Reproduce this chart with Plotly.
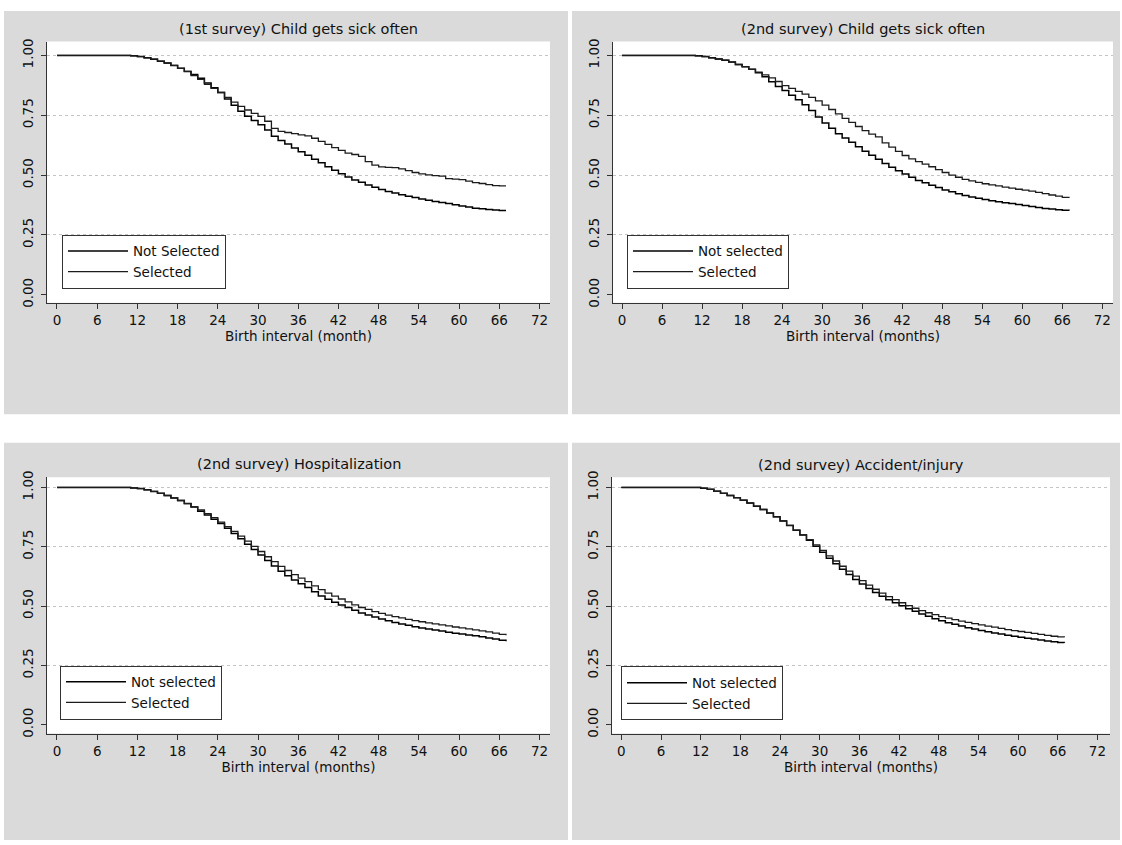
import plotly.graph_objects as go

# ---------------- data ----------------
months = list(range(68))
x_ticks = [0, 6, 12, 18, 24, 30, 36, 42, 48, 54, 60, 66, 72]
y_ticks = [0, 0.25, 0.5, 0.75, 1.0]
y_ticktext = ["0.00", "0.25", "0.50", "0.75", "1.00"]
y_grid = [0.25, 0.5, 0.75, 1.0]

titles = [
    "(1st survey) Child gets sick often",
    "(2nd survey) Child gets sick often",
    "(2nd survey) Hospitalization",
    "(2nd survey) Accident/injury",
]
x_titles = [
    "Birth interval (month)",
    "Birth interval (months)",
    "Birth interval (months)",
    "Birth interval (months)",
]
legend_names = [
    ("Not Selected", "Selected"),
    ("Not selected", "Selected"),
    ("Not selected", "Selected"),
    ("Not selected", "Selected"),
]

# Panel 1: (1st survey) Child gets sick often
p1_not = [1.0]*11 + [0.998, 0.995, 0.99, 0.984, 0.976, 0.968, 0.958, 0.946, 0.933, 0.92,
          0.904, 0.885, 0.865, 0.845, 0.818, 0.792, 0.767, 0.746, 0.728, 0.71,
          0.688, 0.662, 0.645, 0.63, 0.613, 0.598, 0.583, 0.566, 0.552, 0.535,
          0.52, 0.506, 0.492, 0.48, 0.47, 0.459, 0.449, 0.44, 0.432, 0.425,
          0.418, 0.412, 0.406, 0.4, 0.395, 0.39, 0.386, 0.381, 0.376, 0.371,
          0.367, 0.362, 0.359, 0.356, 0.354, 0.352, 0.352]
p1_sel = [1.0]*11 + [0.998, 0.995, 0.99, 0.984, 0.976, 0.968, 0.958, 0.946, 0.933, 0.916,
          0.9, 0.879, 0.862, 0.845, 0.825, 0.805, 0.787, 0.772, 0.758, 0.745,
          0.725, 0.695, 0.683, 0.678, 0.673, 0.668, 0.664, 0.654, 0.641, 0.628,
          0.615, 0.603, 0.592, 0.586, 0.578, 0.556, 0.542, 0.534, 0.532, 0.531,
          0.526, 0.519, 0.511, 0.505, 0.501, 0.498, 0.496, 0.485, 0.483, 0.481,
          0.475, 0.469, 0.465, 0.46, 0.456, 0.455, 0.455]

# Panel 2: (2nd survey) Child gets sick often
p2_not = [1.0]*11 + [0.998, 0.995, 0.99, 0.985, 0.98, 0.972, 0.962, 0.953, 0.942, 0.928,
          0.911, 0.89, 0.87, 0.853, 0.834, 0.815, 0.794, 0.77, 0.743, 0.718,
          0.696, 0.673, 0.655, 0.637, 0.618, 0.6, 0.583, 0.566, 0.548, 0.533,
          0.518, 0.505, 0.491, 0.478, 0.468, 0.458, 0.448, 0.438, 0.43, 0.422,
          0.415, 0.409, 0.403, 0.398, 0.393, 0.389, 0.385, 0.381, 0.377, 0.373,
          0.369, 0.365, 0.361, 0.358, 0.355, 0.353, 0.351]
p2_sel = [1.0]*11 + [0.998, 0.995, 0.99, 0.985, 0.98, 0.972, 0.962, 0.953, 0.942, 0.93,
          0.919, 0.906, 0.891, 0.874, 0.862, 0.85, 0.838, 0.825, 0.81, 0.792,
          0.774, 0.756, 0.737, 0.72, 0.703, 0.686, 0.671, 0.66, 0.635, 0.617,
          0.599, 0.582, 0.568, 0.556, 0.546, 0.535, 0.523, 0.511, 0.5, 0.491,
          0.482, 0.476, 0.47, 0.464, 0.459, 0.455, 0.45, 0.446, 0.441, 0.437,
          0.433, 0.428, 0.423, 0.417, 0.412, 0.407, 0.404]

# Panel 3: (2nd survey) Hospitalization
p3_not = [1.0]*11 + [0.998, 0.995, 0.99, 0.983, 0.975, 0.966, 0.956, 0.945, 0.932, 0.918,
          0.9, 0.884, 0.866, 0.848, 0.828, 0.806, 0.784, 0.761, 0.738, 0.715,
          0.692, 0.669, 0.647, 0.628, 0.61, 0.594, 0.578, 0.56, 0.543, 0.529,
          0.516, 0.505, 0.494, 0.482, 0.471, 0.463, 0.454, 0.446, 0.438, 0.431,
          0.425, 0.419, 0.413, 0.408, 0.403, 0.399, 0.395, 0.39, 0.386, 0.382,
          0.378, 0.375, 0.371, 0.366, 0.361, 0.356, 0.352]
p3_sel = [1.0]*11 + [0.998, 0.995, 0.99, 0.983, 0.975, 0.966, 0.956, 0.945, 0.932, 0.918,
          0.905, 0.89, 0.873, 0.854, 0.835, 0.815, 0.795, 0.774, 0.752, 0.73,
          0.708, 0.687, 0.667, 0.65, 0.633, 0.618, 0.603, 0.585, 0.569, 0.555,
          0.542, 0.53, 0.518, 0.505, 0.494, 0.486, 0.477, 0.469, 0.462, 0.456,
          0.45, 0.444, 0.439, 0.434, 0.429, 0.425, 0.421, 0.417, 0.412, 0.408,
          0.404, 0.4, 0.396, 0.391, 0.386, 0.381, 0.377]

# Panel 4: (2nd survey) Accident/injury
p4_not = [1.0]*12 + [0.997, 0.992, 0.984, 0.975, 0.966, 0.957, 0.946, 0.934, 0.921,
          0.907, 0.892, 0.876, 0.859, 0.84, 0.82, 0.8, 0.777, 0.752, 0.727,
          0.702, 0.678, 0.655, 0.633, 0.612, 0.593, 0.574, 0.557, 0.541, 0.527,
          0.514, 0.501, 0.489, 0.478, 0.467, 0.457, 0.447, 0.438, 0.43, 0.423,
          0.416, 0.409, 0.403, 0.397, 0.392, 0.387, 0.382, 0.377, 0.373, 0.369,
          0.365, 0.361, 0.357, 0.353, 0.35, 0.347, 0.346]
p4_sel = [1.0]*12 + [0.997, 0.992, 0.984, 0.975, 0.966, 0.957, 0.946, 0.934, 0.921,
          0.907, 0.892, 0.876, 0.859, 0.84, 0.82, 0.8, 0.78, 0.758, 0.735,
          0.712, 0.69, 0.668, 0.647, 0.626, 0.607, 0.588, 0.571, 0.555, 0.54,
          0.527, 0.514, 0.502, 0.491, 0.481, 0.472, 0.464, 0.456, 0.449, 0.443,
          0.437, 0.431, 0.426, 0.421, 0.416, 0.411, 0.406, 0.401, 0.397, 0.393,
          0.389, 0.385, 0.381, 0.377, 0.373, 0.37, 0.369]

series_not = [p1_not, p2_not, p3_not, p4_not]
series_sel = [p1_sel, p2_sel, p3_sel, p4_sel]

# ---------------- layout geometry (page pixels of the 1122x845 window) ----------------
W, H = 1122, 845
FONT = "DejaVu Sans"


def fx(px):
    return px / W


def fy(py):
    return 1 - py / H


# plot areas: (left, right, top, bottom) in page px
plot_px = [(47, 550, 35, 300), (613, 1113, 35, 300),
           (47, 550, 477, 737), (612, 1110, 477, 737)]
x_ranges = [[-1.49, 73.57], [-1.35, 73.6], [-1.49, 73.57], [-1.41, 73.9]]
y_ranges = [[-0.033, 1.058], [-0.033, 1.058], [-0.037, 1.043], [-0.037, 1.043]]
title_pos = [(298.5, 22), (863, 22), (298.5, 464), (861, 465)]
legend_pos = [(62, 231), (627, 231), (60, 668), (621, 669)]
panels_px = [(4, 568, 4, 413), (572, 1120, 4, 413),
             (4, 568, 442, 845), (572, 1120, 442, 845)]

fig = go.Figure()

for i in range(4):
    xa = "x" if i == 0 else f"x{i+1}"
    ya = "y" if i == 0 else f"y{i+1}"
    lg = "legend" if i == 0 else f"legend{i+1}"
    fig.add_trace(go.Scatter(
        x=months, y=series_not[i], mode="lines", line_shape="hv",
        line=dict(color="#000000", width=1.5), name=legend_names[i][0],
        xaxis=xa, yaxis=ya, legend=lg))
    fig.add_trace(go.Scatter(
        x=months, y=series_sel[i], mode="lines", line_shape="hv",
        line=dict(color="#1c1c1c", width=1.3), name=legend_names[i][1],
        xaxis=xa, yaxis=ya, legend=lg))

layout = dict(
    width=W, height=H, margin=dict(l=0, r=0, t=0, b=0),
    paper_bgcolor="white", plot_bgcolor="white",
    font=dict(family=FONT, color="#111111", size=13),
    showlegend=True, shapes=[], annotations=[],
)

# gray panel backgrounds first, white plot regions on top of them
for i in range(4):
    pl, pr, pt, pb = panels_px[i]
    layout["shapes"].append(dict(
        type="rect", xref="paper", yref="paper", layer="below",
        x0=fx(pl), x1=fx(pr), y0=fy(pb), y1=fy(pt),
        fillcolor="#dadada", line=dict(width=0)))
for i in range(4):
    l, r, t, b = plot_px[i]
    layout["shapes"].append(dict(
        type="rect", xref="paper", yref="paper", layer="below",
        x0=fx(l), x1=fx(r), y0=fy(b), y1=fy(t),
        fillcolor="white", line=dict(width=0)))

for i in range(4):
    l, r, t, b = plot_px[i]
    sx = "" if i == 0 else str(i + 1)
    layout[f"xaxis{sx}"] = dict(
        domain=[fx(l), fx(r)], range=x_ranges[i], anchor=f"y{sx}",
        tickvals=x_ticks, ticks="outside", ticklen=5, tickcolor="#333333",
        showline=True, linecolor="#333333", linewidth=1,
        showgrid=False, zeroline=False,
        tickfont=dict(size=13.5, family=FONT, color="#111111"),
        title=dict(text=x_titles[i], standoff=1,
                   font=dict(size=13.5, family=FONT, color="#111111")),
    )
    layout[f"yaxis{sx}"] = dict(
        domain=[fy(b), fy(t)], range=y_ranges[i], anchor=f"x{sx}",
        tickvals=y_ticks, ticktext=y_ticktext, tickangle=-90,
        ticks="outside", ticklen=5, tickcolor="#333333",
        showline=True, linecolor="#333333", linewidth=1,
        showgrid=False, zeroline=False, ticklabelstandoff=3,
        minor=dict(tickvals=y_grid, ticks="", showgrid=True,
                   gridcolor="#c4c4c4", griddash="dot", gridwidth=1),
        tickfont=dict(size=13.5, family=FONT, color="#111111"),
    )
    lx, ly = legend_pos[i]
    layout["legend" if i == 0 else f"legend{i+1}"] = dict(
        x=fx(lx), y=fy(ly), xanchor="left", yanchor="top",
        bgcolor="white", bordercolor="#333333", borderwidth=1,
        font=dict(size=13.5, family=FONT, color="#111111"),
        itemwidth=60, tracegroupgap=0,
    )
    tx, ty = title_pos[i]
    layout["annotations"].append(dict(
        text=titles[i], xref="paper", yref="paper", x=fx(tx), y=fy(ty),
        xanchor="center", yanchor="middle", showarrow=False,
        font=dict(size=14.5, family=FONT, color="#111111")))

fig.update_layout(**layout)

# remove the default page margin so the figure sits exactly in the window
page_js = ("document.body.style.margin='0';document.body.style.padding='0';"
           "document.documentElement.style.overflow='hidden';"
           "document.body.style.overflow='hidden';")
fig.write_html("out.html", post_script=page_js,
               config={"displayModeBar": False})
